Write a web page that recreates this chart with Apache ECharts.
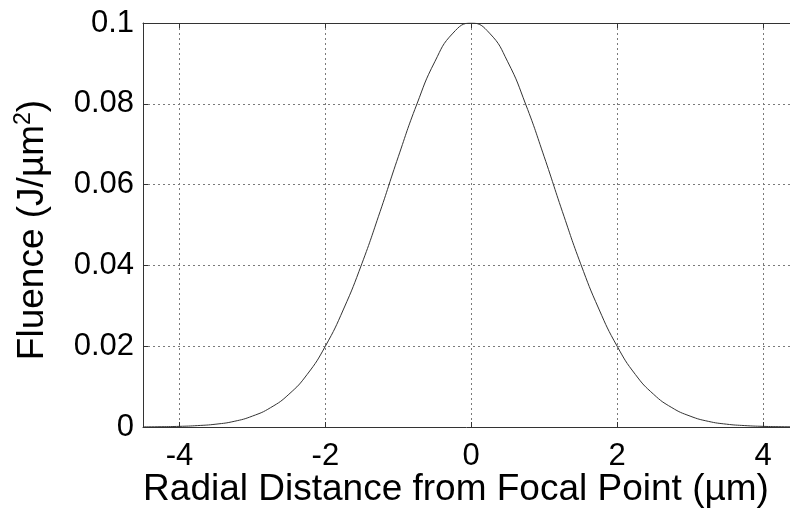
<!DOCTYPE html>
<html>
<head>
<meta charset="utf-8">
<script src="https://cdn.jsdelivr.net/npm/echarts@6/dist/echarts.min.js"></script>
<style>
  html, body { margin: 0; padding: 0; background: #fff; }
  #chart { width: 790px; height: 508px; }
</style>
</head>
<body>
<div id="chart"></div>
<script>
// Radial position across the beam (µm)
const radius = [
  -4.5, -4.25, -4.0, -3.75, -3.5, -3.25, -3.0, -2.75, -2.5, -2.25, -2.0, -1.75, -1.5,
  -1.25, -1.0, -0.75, -0.5, -0.25, 0.0, 0.25, 0.5, 0.75, 1.0, 1.25, 1.5, 1.75, 2.0,
  2.25, 2.5, 2.75, 3.0, 3.25, 3.5, 3.75, 4.0, 4.25, 4.5
];
// Fluence at each radial position (J/µm²)
const fluence = [
  0.00003, 0.00007, 0.00016, 0.00035, 0.0007, 0.0014, 0.0027, 0.0048, 0.0081, 0.0130,
  0.0200, 0.0292, 0.0404, 0.0533, 0.0669, 0.0797, 0.0904, 0.0975, 0.1000, 0.0975,
  0.0904, 0.0797, 0.0669, 0.0533, 0.0404, 0.0292, 0.0200, 0.0130, 0.0081, 0.0048,
  0.0027, 0.0014, 0.0007, 0.00035, 0.00016, 0.00007, 0.00003
];
const xTicks = [-4, -2, 0, 2, 4];
const yTicks = [0, 0.02, 0.04, 0.06, 0.08, 0.1];

// Visible part of the radial axis
const X_MIN = -4.5;
const X_MAX = 4.37;

const FONT = '"Liberation Sans", Arial, sans-serif';
const chart = echarts.init(document.getElementById('chart'), null, { renderer: 'canvas' });

const points = radius.map((r, i) => [r, fluence[i]]);
const gridLine = { show: true, lineStyle: { color: '#7a7a7a', type: [2, 3], width: 1 } };
const frame = { show: true, onZero: false, lineStyle: { color: '#333', width: 1 } };
const innerTick = { show: true, inside: true, length: 5, lineStyle: { color: '#333' } };

chart.setOption({
  animation: false,
  backgroundColor: '#fff',
  grid: { left: 143, top: 23, bottom: 81, right: 0, show: false },
  xAxis: [
    {
      type: 'value',
      min: X_MIN, max: X_MAX,
      axisLine: frame,
      axisTick: Object.assign({ customValues: xTicks }, innerTick),
      splitLine: Object.assign({ customValues: xTicks }, gridLine),
      axisLabel: {
        color: '#000', fontFamily: FONT, fontSize: 31, margin: 14,
        customValues: xTicks,
        formatter: v => String(v)
      }
    },
    {
      type: 'value',
      position: 'top',
      min: X_MIN, max: X_MAX,
      axisLine: frame,
      axisTick: Object.assign({ customValues: xTicks }, innerTick),
      splitLine: { show: false },
      axisLabel: { show: false }
    }
  ],
  yAxis: {
    type: 'value',
    min: 0, max: 0.1, interval: 0.02,
    axisLine: frame,
    axisTick: innerTick,
    splitLine: gridLine,
    axisLabel: {
      color: '#000', fontFamily: FONT, fontSize: 31, margin: 9,
      customValues: yTicks,
      formatter: v => String(+v.toFixed(2))
    }
  },
  series: [{
    type: 'line',
    data: points,
    smooth: 0.5,
    symbol: 'none',
    lineStyle: { color: '#333', width: 1 },
    z: 3
  }],
  graphic: [
    {
      type: 'text',
      x: 456, y: 490,
      style: {
        text: 'Radial Distance from Focal Point (µm)',
        font: '37px ' + FONT,
        fill: '#000',
        align: 'center',
        verticalAlign: 'middle'
      }
    },
    {
      type: 'text',
      x: 33, y: 230,
      rotation: Math.PI / 2,
      style: {
        text: '{m|Fluence (J/µm}{s|2}{m|)}',
        fill: '#000',
        align: 'center',
        verticalAlign: 'middle',
        rich: {
          m: { font: '37px ' + FONT, fill: '#000', lineHeight: 42 },
          s: { font: '23px ' + FONT, fill: '#000', verticalAlign: 'top', lineHeight: 42 }
        }
      }
    }
  ]
});
</script>
</body>
</html>
